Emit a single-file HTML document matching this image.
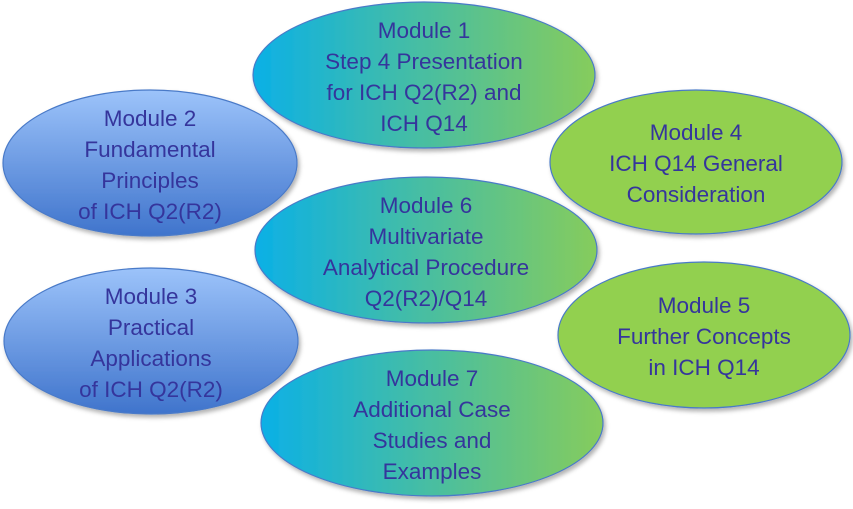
<!DOCTYPE html>
<html><head><style>
body{margin:0;width:853px;height:504px;background:#fff;overflow:hidden}
svg text{font-family:"Liberation Sans",sans-serif;font-size:22.5px;fill:#35359c;text-anchor:middle}
</style></head><body>
<svg width="853" height="504" viewBox="0 0 853 504">
<defs>
<linearGradient id="b" x1="0" y1="0" x2="0" y2="1"><stop offset="0" stop-color="#9cc3fa"/><stop offset="1" stop-color="#3f74cc"/></linearGradient>
<linearGradient id="t" x1="0" y1="0" x2="1" y2="0"><stop offset="0" stop-color="#0bb0e6"/><stop offset="1" stop-color="#86cc5c"/></linearGradient>
<filter id="s" x="-10%" y="-10%" width="125%" height="130%"><feDropShadow dx="2" dy="3" stdDeviation="2" flood-color="#000" flood-opacity="0.3"/></filter>
</defs>
<g stroke="#4a7ac8" stroke-width="1.2" filter="url(#s)">
<ellipse cx="150" cy="163" rx="147" ry="73" fill="url(#b)"/>
<ellipse cx="151" cy="341" rx="147" ry="73" fill="url(#b)"/>
<ellipse cx="696" cy="162" rx="146" ry="72" fill="#92d050"/>
<ellipse cx="704" cy="335" rx="146" ry="73" fill="#92d050"/>
<ellipse cx="424" cy="75" rx="171" ry="73" fill="url(#t)"/>
<ellipse cx="426" cy="250" rx="171" ry="73" fill="url(#t)"/>
<ellipse cx="432" cy="423" rx="171" ry="73" fill="url(#t)"/>
</g>
<text x="424" y="38">Module 1</text><text x="424" y="69">Step 4 Presentation</text><text x="424" y="100">for ICH Q2(R2) and</text><text x="424" y="131">ICH Q14</text>
<text x="150" y="126">Module 2</text><text x="150" y="157">Fundamental</text><text x="150" y="188">Principles</text><text x="150" y="219">of ICH  Q2(R2)</text>
<text x="696" y="140">Module 4</text><text x="696" y="171">ICH Q14 General</text><text x="696" y="202">Consideration</text>
<text x="426" y="213">Module 6</text><text x="426" y="244">Multivariate</text><text x="426" y="275">Analytical Procedure</text><text x="426" y="306">Q2(R2)/Q14</text>
<text x="151" y="304">Module 3</text><text x="151" y="335">Practical</text><text x="151" y="366">Applications</text><text x="151" y="397">of  ICH  Q2(R2)</text>
<text x="704" y="313">Module 5</text><text x="704" y="344">Further Concepts</text><text x="704" y="375">in ICH Q14</text>
<text x="432" y="386">Module 7</text><text x="432" y="417">Additional Case</text><text x="432" y="448">Studies and</text><text x="432" y="479">Examples</text>
</svg>
</body></html>
